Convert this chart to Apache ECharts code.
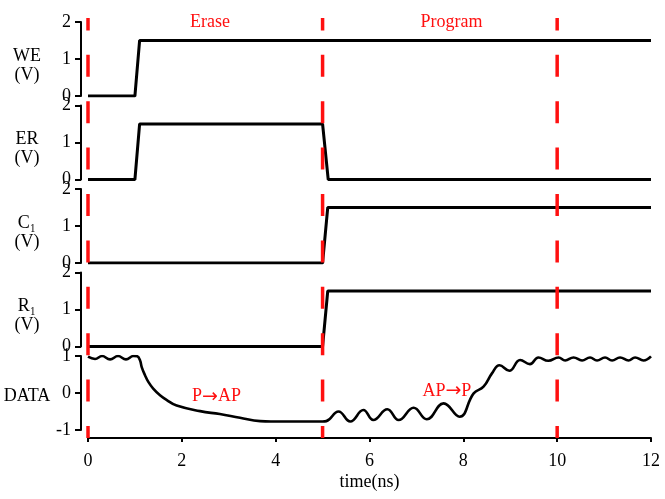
<!DOCTYPE html>
<html>
<head>
<meta charset="utf-8">
<script src="https://cdn.jsdelivr.net/npm/echarts@6/dist/echarts.min.js"></script>
<style>
  html, body { margin: 0; padding: 0; background: #fff; }
  #chart { width: 665px; height: 499px; }
</style>
</head>
<body>
<div id="chart"></div>
<script>
// waveforms, time in ns
var weT = [0, 1.0, 1.1, 12];
var weV = [0, 0, 1.5, 1.5];
var erT = [0, 1.0, 1.1, 5.0, 5.12, 12];
var erV = [0, 0, 1.5, 1.5, 0, 0];
var c1T = [0, 5.0, 5.11, 12];
var c1V = [0, 0, 1.5, 1.5];
var r1T = [0, 5.0, 5.11, 12];
var r1V = [0, 0, 1.5, 1.5];
var dataT = [0, 0.15, 0.3, 0.47, 0.64, 0.81, 0.97, 1.05, 1.11, 1.145, 1.215, 1.286, 1.39, 1.535, 1.68, 1.89,
  2.39, 2.81, 3.24, 3.67, 3.9, 4.5, 5.0, 5.08, 5.34, 5.59, 5.87, 6.08, 6.38, 6.62, 6.94, 7.22, 7.58, 7.92,
  8.22, 8.43, 8.61, 8.77, 8.98, 9.21, 9.42, 9.6, 9.81, 10.03, 10.17, 10.35, 10.53, 10.7, 10.85, 11.02,
  11.17, 11.34, 11.52, 11.66, 11.84, 12];
var dataV = [0.98, 0.92, 1.0, 0.91, 1.0, 0.91, 1.0, 0.99, 0.88, 0.7, 0.48, 0.3, 0.12, -0.06, -0.19, -0.34,
  -0.49, -0.57, -0.67, -0.76, -0.77, -0.77, -0.77, -0.76, -0.5, -0.77, -0.46, -0.73, -0.44, -0.73, -0.4, -0.71, -0.28, -0.64,
  -0.01, 0.17, 0.53, 0.75, 0.6, 0.89, 0.78, 0.96, 0.87, 0.96, 0.88, 0.96, 0.88, 0.96, 0.88, 0.96,
  0.88, 0.96, 0.88, 0.96, 0.88, 0.99];

var panelNames = ['WE\n(V)', 'ER\n(V)', 'C\u2081\n(V)', 'R\u2081\n(V)', 'DATA'];
var panelMin = [0, 0, 0, 0, -1];
var panelMax = [2, 2, 2, 2, 1];
var phaseLines = [0, 5, 10];
// annotations: text, time, value, panel
var noteText = ['Erase', 'Program', 'P\u2192AP', 'AP\u2192P'];
var noteT = [2.6, 7.75, 2.74, 7.65];
var noteV = [2, 2, -0.1, 0.06];
var notePanel = [0, 0, 4, 4];

var font = "'Liberation Serif', 'Times New Roman', serif";
var red = '#ff1010';
var tops = [22, 105.5, 189, 272.5, 356];
var panelH = 74;

function zip(t, v) {
  return t.map(function (x, i) { return [x, v[i]]; });
}

var signals = [zip(weT, weV), zip(erT, erV), zip(c1T, c1V), zip(r1T, r1V), zip(dataT, dataV)];

var grid = [], xAxis = [], yAxis = [], series = [], graphic = [];
tops.forEach(function (top, i) {
  var last = i === tops.length - 1;
  grid.push({ left: 88, right: 14, top: top, height: panelH });
  var xa = {
    gridIndex: i, type: 'value', min: 0, max: 12, interval: 2, offset: 8,
    nameMoveOverlap: false,
    axisLine: { show: last, onZero: false, lineStyle: { color: '#000', width: 2 } },
    axisTick: { show: last, length: 4, lineStyle: { color: '#000', width: 2 } },
    // taller line box pushes the numbers down a few px
    axisLabel: { show: last, fontFamily: font, fontSize: 18, color: '#000', margin: 8, lineHeight: 30 },
    splitLine: { show: false }
  };
  if (last) {
    xa.name = 'time(ns)';
    xa.nameLocation = 'middle';
    xa.nameGap = 35;
    xa.nameTextStyle = { fontFamily: font, fontSize: 18, color: '#000' };
  }
  xAxis.push(xa);
  yAxis.push({
    gridIndex: i, type: 'value', min: panelMin[i], max: panelMax[i], interval: 1, offset: 7,
    nameMoveOverlap: false,
    axisLine: { show: true, onZero: false, lineStyle: { color: '#000', width: 2 } },
    axisTick: { show: true, length: 6, lineStyle: { color: '#000', width: 2 } },
    axisLabel: { fontFamily: font, fontSize: 18, color: '#000', margin: 10 },
    splitLine: { show: false }
  });
  series.push({
    type: 'line', xAxisIndex: i, yAxisIndex: i,
    data: signals[i], showSymbol: false, smooth: last ? 0.45 : false,
    lineStyle: { color: '#000', width: last ? 2.6 : 3 },
    z: 2
  });
  // panel label left of the axis, a little below the panel middle
  graphic.push({
    type: 'text', x: 27, y: top + panelH / 2 + (last ? 3 : 6.5),
    style: {
      text: panelNames[i], fontFamily: font, fontSize: 18, fill: '#000',
      align: 'center', verticalAlign: 'middle', lineHeight: 19
    }
  });
});

// overlay for the phase boundaries, spanning all panels
grid.push({ left: 88, right: 14, top: 18, height: 420 });
xAxis.push({ gridIndex: 5, type: 'value', min: 0, max: 12, show: false });
yAxis.push({ gridIndex: 5, type: 'value', min: 0, max: 1, show: false });
phaseLines.forEach(function (x) {
  series.push({
    type: 'line', xAxisIndex: 5, yAxisIndex: 5,
    data: [[x, 0], [x, 1]], showSymbol: false,
    lineStyle: { color: red, width: 3.5, type: [22, 24.4], dashOffset: 10 },
    z: 5
  });
});

// zero-width frames along the offset axes, so the spines show even if the axis line is dropped
var frames = tops.map(function (top) { return { left: 81, width: 0, top: top, height: panelH }; });
frames.push({ left: 88, right: 14, top: tops[4] + panelH + 8, height: 0 });
frames.forEach(function (f) {
  var g = grid.length;
  f.show = true;
  f.borderColor = '#000';
  f.borderWidth = 2;
  grid.push(f);
  xAxis.push({ gridIndex: g, type: 'value', show: false });
  yAxis.push({ gridIndex: g, type: 'value', show: false });
});

var chart = echarts.init(document.getElementById('chart'));
chart.setOption({
  animation: false,
  backgroundColor: '#fff',
  grid: grid,
  xAxis: xAxis,
  yAxis: yAxis,
  series: series
});

// red annotations placed through the panels' own scales
noteText.forEach(function (txt, k) {
  var p = chart.convertToPixel({ xAxisIndex: notePanel[k], yAxisIndex: notePanel[k] }, [noteT[k], noteV[k]]);
  graphic.push({
    type: 'text', x: p[0], y: p[1], z: 10,
    style: {
      // the arrow glyph comes from DejaVu, the serif one is too short
      text: txt.split('\u2192').map(function (s) { return '{t|' + s + '}'; }).join('{r|\u2192}'),
      align: 'center', verticalAlign: 'middle',
      rich: {
        t: { fontFamily: font, fontSize: 18, fill: red },
        r: { fontFamily: "'DejaVu Sans'", fontSize: 19, fill: red }
      }
    }
  });
});
chart.setOption({ graphic: graphic });
</script>
</body>
</html>
